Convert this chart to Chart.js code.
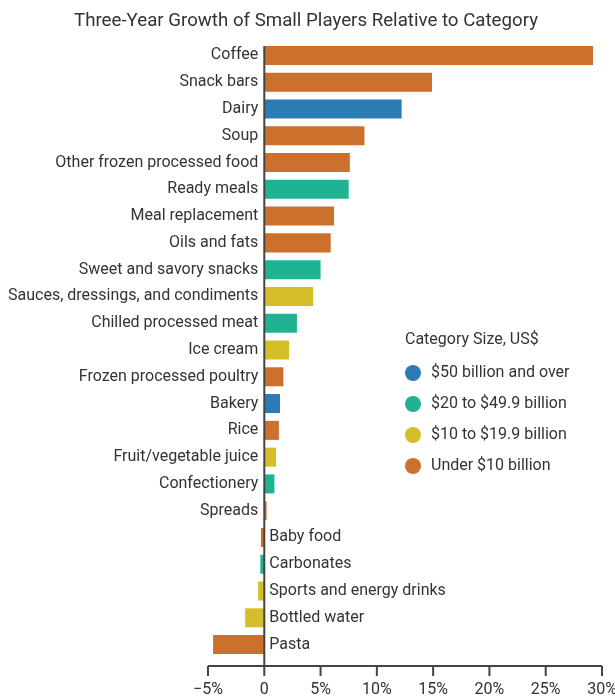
<!DOCTYPE html>
<html>
<head>
<meta charset="utf-8">
<script src="https://cdn.jsdelivr.net/npm/chart.js@4"></script>
<style>
  html, body { margin: 0; padding: 0; background: #fff; }
  #wrap { position: relative; width: 615px; height: 696px; }
</style>
</head>
<body>
<div id="wrap"><canvas id="growth-chart"></canvas></div>
<script>
var categories = [
  "Coffee", "Snack bars", "Dairy", "Soup", "Other frozen processed food",
  "Ready meals", "Meal replacement", "Oils and fats", "Sweet and savory snacks",
  "Sauces, dressings, and condiments", "Chilled processed meat", "Ice cream",
  "Frozen processed poultry", "Bakery", "Rice", "Fruit/vegetable juice",
  "Confectionery", "Spreads", "Baby food", "Carbonates",
  "Sports and energy drinks", "Bottled water", "Pasta"
];
var growth = [
  29.2, 14.9, 12.2, 8.9, 7.6,
  7.5, 6.2, 5.9, 5.0,
  4.35, 2.9, 2.2,
  1.7, 1.4, 1.3, 1.05,
  0.9, 0.2, -0.3, -0.35,
  -0.55, -1.7, -4.55
];
// 0 = $50bn+, 1 = $20-49.9bn, 2 = $10-19.9bn, 3 = under $10bn
var sizeGroup = [
  3, 3, 0, 3, 3,
  1, 3, 3, 1,
  2, 1, 2,
  3, 0, 3, 2,
  1, 3, 3, 1,
  2, 2, 3
];
var groupLabels = ["$50 billion and over", "$20 to $49.9 billion", "$10 to $19.9 billion", "Under $10 billion"];
var groupColors = ["#2d7bb4", "#1fb394", "#d4bf2a", "#cc702e"];
var xTicks = [-5, 0, 5, 10, 15, 20, 25, 30];

var FONT = "Roboto";
var INK = "#333333";

var decorPlugin = {
  id: "decor",
  afterDatasetsDraw: function (chart) {
    var ctx = chart.ctx;
    var x = chart.scales.x;
    var area = chart.chartArea;
    var meta = chart.getDatasetMeta(0);
    var x0 = x.getPixelForValue(0);
    var axisY = area.bottom + 8;

    ctx.save();
    // zero line
    ctx.strokeStyle = "#444";
    ctx.lineWidth = 2;
    var firstBar = meta.data[0];
    ctx.beginPath();
    ctx.moveTo(x0, firstBar.y - firstBar.height / 2);
    ctx.lineTo(x0, axisY);
    ctx.stroke();

    // x axis line + ticks
    ctx.beginPath();
    ctx.moveTo(x.getPixelForValue(xTicks[0]), axisY);
    ctx.lineTo(x.getPixelForValue(xTicks[xTicks.length - 1]), axisY);
    xTicks.forEach(function (t) {
      var px = x.getPixelForValue(t);
      ctx.moveTo(px, axisY);
      ctx.lineTo(px, axisY + 10);
    });
    ctx.stroke();

    // category labels next to the zero line
    ctx.fillStyle = INK;
    ctx.font = "16px " + FONT;
    ctx.textBaseline = "middle";
    meta.data.forEach(function (bar, i) {
      if (growth[i] >= 0) {
        ctx.textAlign = "right";
        ctx.fillText(categories[i], x0 - 6, bar.y);
      } else {
        ctx.textAlign = "left";
        ctx.fillText(categories[i], x0 + 5, bar.y);
      }
    });

    // legend
    ctx.textAlign = "left";
    ctx.fillText("Category Size, US$", 405, 340);
    groupLabels.forEach(function (lab, i) {
      var cy = 373 + i * 31;
      ctx.fillStyle = groupColors[i];
      ctx.beginPath();
      ctx.arc(413, cy, 8, 0, Math.PI * 2);
      ctx.fill();
      ctx.fillStyle = INK;
      ctx.fillText(lab, 431, cy);
    });

    // title
    ctx.font = "18.7px " + FONT;
    ctx.textAlign = "center";
    ctx.fillText("Three-Year Growth of Small Players Relative to Category", 306, 21);
    ctx.restore();
  }
};

var ctx = document.getElementById("growth-chart").getContext("2d");
window.growthChart = new Chart(ctx, {
  type: "bar",
  data: {
    labels: categories,
    datasets: [{
      data: growth,
      backgroundColor: sizeGroup.map(function (g) { return groupColors[g]; }),
      categoryPercentage: 1,
      barPercentage: 0.71
    }]
  },
  options: {
    indexAxis: "y",
    responsive: true,
    maintainAspectRatio: false,
    animation: false,
    layout: { padding: { left: 208, right: 13, top: 42, bottom: 0 } },
    plugins: {
      legend: { display: false },
      title: { display: false },
      tooltip: { enabled: false }
    },
    scales: {
      y: { display: false },
      x: {
        min: -5,
        max: 30,
        grid: { display: false, drawTicks: false },
        border: { display: false },
        afterFit: function (scale) {
          scale.height = 38;
          scale.paddingLeft = 0;
          scale.paddingRight = 0;
        },
        ticks: {
          stepSize: 5,
          padding: 22,
          color: INK,
          font: { family: FONT, size: 16 },
          maxRotation: 0,
          callback: function (v) {
            return (v < 0 ? "\u2212" + Math.abs(v) : v) + (v === 0 ? "" : "%");
          }
        }
      }
    }
  },
  plugins: [decorPlugin]
});
</script>
</body>
</html>
